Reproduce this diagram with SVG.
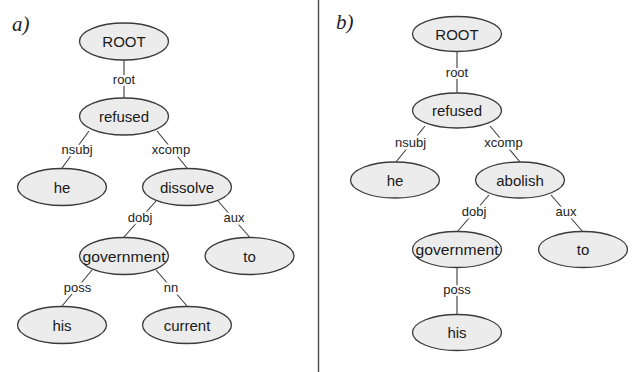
<svg xmlns="http://www.w3.org/2000/svg" width="633" height="372" viewBox="0 0 633 372">
<style>
.n ellipse{fill:#ececec;stroke:#3a3a3a;stroke-width:1.3}
.n text{font-family:"Liberation Sans",Arial,sans-serif;font-size:15px;fill:#1a1a1a;text-anchor:middle}
.e line{stroke:#3a3a3a;stroke-width:1.1}
.e text{font-family:"Liberation Sans",Arial,sans-serif;font-size:13px;fill:#222;text-anchor:middle;stroke:#fff;stroke-width:5px;paint-order:stroke;stroke-linejoin:round}
.p{font-family:"Liberation Serif","Times New Roman",serif;font-style:italic;font-size:21px;fill:#1e1e2a}
</style>
<rect width="633" height="372" fill="#fff"/>
<line x1="318.5" y1="0" x2="318.5" y2="372" stroke="#555" stroke-width="1.5"/>
<text class="p" x="12" y="31">a)</text>
<text class="p" x="336" y="29">b)</text>

<g id="connectors-a" class="e">
<line x1="124" y1="60" x2="124" y2="98"/>
<line x1="89" y1="131" x2="62" y2="168"/>
<line x1="157" y1="131" x2="187" y2="168"/>
<line x1="156" y1="201" x2="124" y2="237"/>
<line x1="218" y1="201" x2="249.5" y2="237"/>
<line x1="92" y1="270" x2="62" y2="306"/>
<line x1="156" y1="270" x2="187" y2="306"/>
<text x="124" y="84">root</text>
<text x="77" y="154">nsubj</text>
<text x="171" y="154">xcomp</text>
<text x="140" y="222">dobj</text>
<text x="234" y="222">aux</text>
<text x="77.5" y="292">poss</text>
<text x="171" y="292">nn</text>
</g>

<g id="connectors-b" class="e">
<line x1="457" y1="51" x2="457" y2="93"/>
<line x1="425" y1="126" x2="396" y2="162"/>
<line x1="490" y1="126" x2="520" y2="162"/>
<line x1="489" y1="195" x2="457" y2="232"/>
<line x1="551" y1="195" x2="583" y2="232"/>
<line x1="457" y1="267" x2="457" y2="315"/>
<text x="457" y="77">root</text>
<text x="410.5" y="147">nsubj</text>
<text x="503.5" y="147">xcomp</text>
<text x="474" y="216">dobj</text>
<text x="566" y="216">aux</text>
<text x="457" y="294">poss</text>
</g>

<g id="a-root" class="n"><ellipse cx="124" cy="41.5" rx="44.5" ry="18.5"/><text x="124" y="47">ROOT</text></g>
<g id="a-refused" class="n"><ellipse cx="124" cy="116.5" rx="44.5" ry="18.5"/><text x="124" y="122">refused</text></g>
<g id="a-he" class="n"><ellipse cx="62" cy="187" rx="44.5" ry="18.5"/><text x="62" y="192.5">he</text></g>
<g id="a-dissolve" class="n"><ellipse cx="187" cy="187" rx="44.5" ry="18.5"/><text x="187" y="192.5">dissolve</text></g>
<g id="a-government" class="n"><ellipse cx="124" cy="256" rx="44.5" ry="18.5"/><text x="124" y="261.5" textLength="83" lengthAdjust="spacingAndGlyphs">government</text></g>
<g id="a-to" class="n"><ellipse cx="249.5" cy="256" rx="44.5" ry="18.5"/><text x="249.5" y="261.5">to</text></g>
<g id="a-his" class="n"><ellipse cx="62" cy="325" rx="44.5" ry="18.5"/><text x="62" y="330.5">his</text></g>
<g id="a-current" class="n"><ellipse cx="187" cy="325" rx="44.5" ry="18.5"/><text x="187" y="330.5">current</text></g>

<g id="b-root" class="n"><ellipse cx="457" cy="34" rx="44.5" ry="17.5"/><text x="457" y="39.5">ROOT</text></g>
<g id="b-refused" class="n"><ellipse cx="457" cy="110.5" rx="44.5" ry="17.5"/><text x="457" y="116">refused</text></g>
<g id="b-he" class="n"><ellipse cx="395" cy="180" rx="44.5" ry="18"/><text x="395" y="185.5">he</text></g>
<g id="b-abolish" class="n"><ellipse cx="520" cy="180" rx="44.5" ry="18"/><text x="520" y="185.5">abolish</text></g>
<g id="b-government" class="n"><ellipse cx="457" cy="249.5" rx="44.5" ry="18"/><text x="457" y="255" textLength="83" lengthAdjust="spacingAndGlyphs">government</text></g>
<g id="b-to" class="n"><ellipse cx="583" cy="249.5" rx="44.5" ry="18"/><text x="583" y="255">to</text></g>
<g id="b-his" class="n"><ellipse cx="457" cy="332.5" rx="44.5" ry="18"/><text x="457" y="338">his</text></g>
</svg>
